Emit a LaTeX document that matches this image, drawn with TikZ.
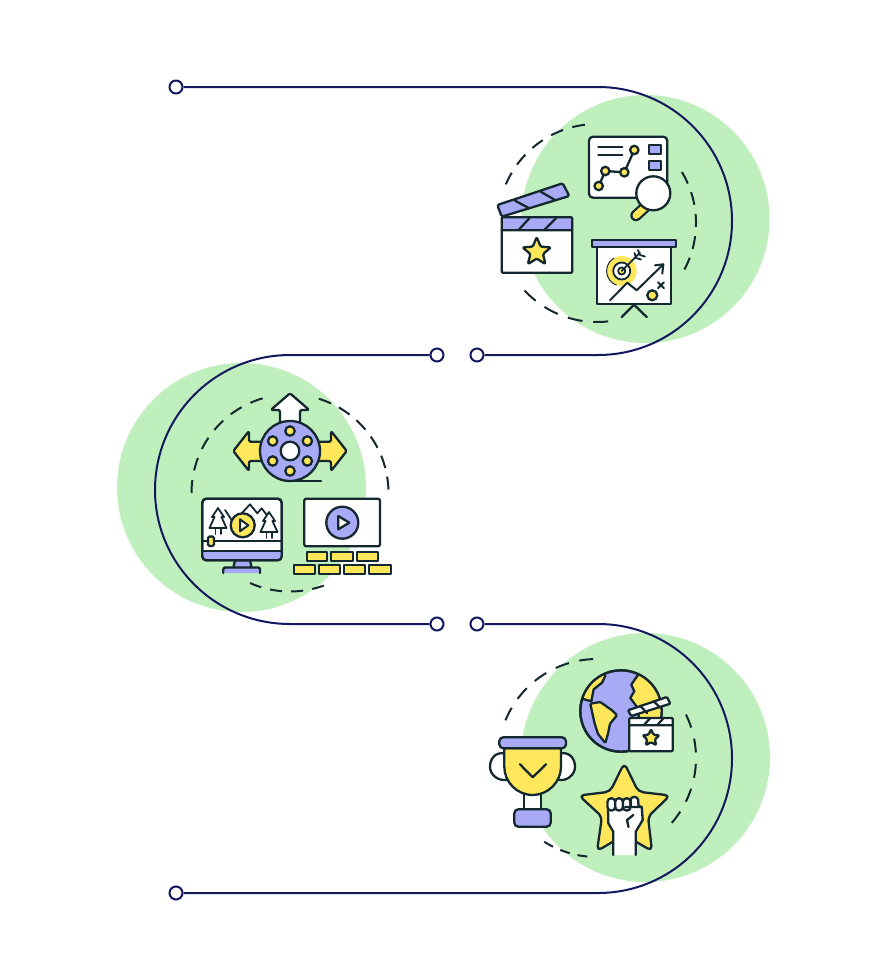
\documentclass[tikz,border=0pt]{standalone}
\definecolor{leaf}{HTML}{BFEFBD}
\definecolor{iris}{HTML}{A8AAF6}
\definecolor{sun}{HTML}{FFE75C}
\definecolor{ink}{HTML}{14282F}
\definecolor{navy}{HTML}{14185E}
\tikzset{
  blob/.style={fill=leaf,draw=none},
  icon/.style={draw=ink,line width=2.3pt,line join=round,line cap=round},
  wfill/.style={icon,fill=white},
  yfill/.style={icon,fill=sun},
  pfill/.style={icon,fill=iris},
  route/.style={draw=navy,line width=2pt},
  endpoint/.style={circle,draw=navy,line width=2pt,fill=white,minimum size=13pt,inner sep=0pt},
  dashring/.style={draw=ink,line width=2pt,smooth}
}
\newcommand{\ringarc}[7]{\draw[dashring,dash pattern=on #6pt off #7pt] plot[domain=#4:#5,samples=60] ({#1+#3*cos(\x)},{#2+#3*sin(\x)});}
\newcommand{\fivestar}[5]{% cx cy R r style
  \draw[#5,rounded corners=1.4pt] ({#1+#3*cos(-90)},{#2+#3*sin(-90)})
  -- ({#1+#4*cos(-54)},{#2+#4*sin(-54)}) -- ({#1+#3*cos(-18)},{#2+#3*sin(-18)})
  -- ({#1+#4*cos(18)},{#2+#4*sin(18)}) -- ({#1+#3*cos(54)},{#2+#3*sin(54)})
  -- ({#1+#4*cos(90)},{#2+#4*sin(90)}) -- ({#1+#3*cos(126)},{#2+#3*sin(126)})
  -- ({#1+#4*cos(162)},{#2+#4*sin(162)}) -- ({#1+#3*cos(198)},{#2+#3*sin(198)})
  -- ({#1+#4*cos(234)},{#2+#4*sin(234)}) -- cycle;}
\begin{document}
\begin{tikzpicture}[x=1pt,y=-1pt]
\useasboundingbox (0,0) rectangle (896,980);
\fill[white] (0,0) rectangle (896,980);
% green discs
\fill[blob] (645.5,219) circle[radius=124];
\fill[blob] (241.5,487.5) circle[radius=124.5];
\fill[blob] (645.5,757.5) circle[radius=124.5];
% routes
\node[endpoint] (a1) at (176,87) {};
\node[endpoint] (a2) at (477,355) {};
\node[endpoint] (b1) at (437,355) {};
\node[endpoint] (b2) at (437,624) {};
\node[endpoint] (c1) at (477,624) {};
\node[endpoint] (c2) at (176,893) {};
\draw[route] (a1.east) -- (598,87) .. controls (672,87) and (732,147) .. (732,221) .. controls (732,295) and (672,355) .. (598,355) -- (a2.east);
\draw[route] (b1.west) -- (290,355) .. controls (215.5,355) and (155,415.5) .. (155,490) .. controls (155,564) and (215.5,624) .. (290,624) -- (b2.west);
\draw[route] (c1.east) -- (598,624) .. controls (672,624) and (732,684) .. (732,758.5) .. controls (732,833) and (672,893) .. (598,893) -- (c2.east);
% dashed rings
\ringarc{597}{223}{99}{203}{263}{13}{9.7}
\ringarc{597}{223}{99}{-31}{28}{13}{9.25}
\ringarc{597}{223}{99}{83.5}{137}{15}{10.8}
\ringarc{290}{493}{98.5}{180}{254}{13}{9.8}
\ringarc{290}{493}{98.5}{-73}{-2}{13}{8.8}
\ringarc{290}{493}{98.5}{70}{114}{12}{9.2}
\ringarc{597}{758}{99}{202.4}{267.8}{14}{10.75}
\ringarc{597}{758}{99}{-26}{41}{14}{11.4}
\ringarc{597}{758}{99}{95.6}{122.4}{10}{8}

% ---- clapperboard
\draw[pfill,rounded corners=1.5pt] (497.3,205) -- (562.7,183.3) -- (569.3,196) -- (501.7,216.7) -- cycle;
\draw[icon] (515,200.7) -- (529.3,208.3) (540.7,191.7) -- (555,200);
\fill[white] (501.7,217.3) rectangle (572.3,272.7);
\fill[iris] (501.7,217.3) rectangle (572.3,230.3);
\draw[icon,rounded corners=1pt] (501.7,217.3) rectangle (572.3,272.7);
\draw[icon] (501.7,230.3) -- (572.3,230.3) (518.3,230.3) -- (529.3,218.3) (544,230.3) -- (556,218.3);
\fivestar{536.7}{252}{15}{6.6}{yfill}

% ---- chart
\draw[wfill,rounded corners=4pt] (589,136.7) rectangle (667.3,197.7);
\draw[icon] (598.3,146.7) -- (622.3,146.7) (598.3,154.7) -- (622.3,154.7);
\draw[icon] (634.3,150) -- (624.3,172.3) -- (605.3,171) -- (598.7,186);
\foreach \p in {(634.3,150),(624.3,172.3),(605.3,171),(598.7,186)} \draw[yfill] \p circle[radius=4.2];
\draw[pfill] (649.3,144.7) rectangle (660.7,154);
\draw[pfill] (649.3,160.7) rectangle (660.7,170);
\draw[ink,line width=11.5pt,line cap=round] (645,207.3) -- (636,215.5);
\draw[sun,line width=7pt,line cap=round] (645,207.3) -- (636,215.5);
\draw[wfill] (653.3,193.3) circle[radius=17];

% ---- presentation board
\draw[icon] (634,304.7) -- (621.7,317) (634,304.7) -- (646.7,317);
\draw[wfill] (597.3,247) rectangle (671,303.7);
\draw[pfill] (592.3,240.3) rectangle (675.7,247);
\fill[sun] (621.7,271) circle[radius=15];
\draw[ink,line width=1pt] plot[domain=110:240,samples=20] ({621.7+15*cos(\x)},{271+15*sin(\x)});
\draw[wfill,line width=1.8pt] (621.7,271) circle[radius=8.5];
\draw[yfill,line width=1.8pt] (621.7,271) circle[radius=3.6];
\draw[icon,line width=1.8pt] (621.7,271) -- (640,252.7) (634.5,253) -- (636,258) -- (641,259.5) (638,250) -- (640,255) -- (645,256.5);
\fill[white] (610,300.3) -- (627.3,282.7) -- (636.7,290.3) -- (636.7,296) -- (625,296) -- cycle;
\draw[icon,line width=2pt] (610,300.3) -- (627.3,282.7) -- (636.7,290.3) -- (663.3,264.3);
\draw[icon,line width=2pt] (655,265.3) -- (663.3,264.3) -- (662.3,273.7);
\draw[icon,line width=2pt] (658,282.3) -- (664,288.3) (664,282.3) -- (658,288.3);
\draw[yfill] (652.3,295.3) circle[radius=5];

% ---- film reel
\draw[wfill,rounded corners=1.5pt] (280,425) -- (280,410) -- (270.7,410) -- (290,393.3) -- (309.3,410) -- (300,410) -- (300,425) -- cycle;
\draw[yfill,rounded corners=1.5pt] (262,441.7) -- (249,441.7) -- (249,431) -- (233.3,451) -- (249,471) -- (249,461) -- (262,461) -- cycle;
\draw[yfill,rounded corners=1.5pt] (318,441.7) -- (331,441.7) -- (331,431) -- (346.7,451) -- (331,471) -- (331,461) -- (318,461) -- cycle;
\draw[pfill] (290,451) circle[radius=30];
\draw[icon] (290,481) -- (321,481);
\draw[wfill] (290,451) circle[radius=9.3];
\foreach \a in {-90,-30,30,90,150,210} \draw[yfill] ({290+20*cos(\a)},{451+20*sin(\a)}) circle[radius=4.7];

% ---- monitor
\draw[pfill] (235,560.3) -- (250,560.3) -- (251.7,568) -- (233.3,568) -- cycle;
\fill[iris,rounded corners=2pt] (223.3,573) -- (223.3,567.5) -- (260,567.5) -- (260,573) -- cycle;
\draw[icon,rounded corners=2pt] (223.3,573) -- (223.3,567.5) -- (260,567.5) -- (260,573);
\draw[wfill,rounded corners=4pt] (202.3,498.7) rectangle (281.7,560.3);
\begin{scope}
\clip[rounded corners=4pt] (202.3,498.7) rectangle (281.7,560.3);
\fill[iris] (202.3,551.3) rectangle (281.7,560.3);
\draw[icon,line width=1.8pt] (225,510) -- (231.7,520);
\draw[icon,line width=1.8pt] (241.7,513.3) -- (250,504.3) -- (257.3,513.3) -- (261.7,508.3) -- (266.7,515);
\end{scope}
\draw[icon,rounded corners=4pt] (202.3,498.7) rectangle (281.7,560.3);
\draw[icon] (202.3,541.3) -- (281.7,541.3) (202.3,551.3) -- (281.7,551.3);
\draw[yfill,rounded corners=1.5pt] (208,536.5) rectangle (214,546);
\foreach \cx/\top in {218/508, 269/512}{
  \draw[wfill,line width=1.8pt] (\cx,\top) -- ({\cx+6},{\top+9}) -- ({\cx+3.5},{\top+9}) -- ({\cx+8.5},{\top+20}) -- ({\cx-8.5},{\top+20}) -- ({\cx-3.5},{\top+9}) -- ({\cx-6},{\top+9}) -- cycle;
  \draw[icon,line width=1.8pt] ({\cx-2.6},{\top+20}) -- ({\cx-2.6},{\top+26}) ({\cx+2.6},{\top+20}) -- ({\cx+2.6},{\top+26});
}
\draw[yfill] (242.7,525.3) circle[radius=12];
\draw[wfill,line width=2pt] (240,519.3) -- (248.3,525.3) -- (240,531.3) -- cycle;

% ---- video and bricks
\draw[wfill,rounded corners=2pt] (304.3,498.7) rectangle (380,546.3);
\draw[pfill] (342.3,522.7) circle[radius=16];
\draw[wfill] (338.3,516) -- (349.3,522.7) -- (338.3,529.3) -- cycle;
\foreach \xa/\xb in {306.7/327.3,331.3/352.7,356.7/378} \draw[yfill] (\xa,552) rectangle (\xb,561.3);
\foreach \xa/\xb in {294/314.7,319.3/340,344.3/365,369.3/390.7} \draw[yfill] (\xa,565.3) rectangle (\xb,574.3);

% ---- globe
\draw[pfill] (621,711) circle[radius=40.7];
\begin{scope}
\clip (621,711) circle[radius=40.7];
\draw[yfill] (605.3,676) -- (602,682.7) -- (593.7,689.3) -- (591.3,701.3) -- (582,698.7) -- (580,680) -- (600,668) -- cycle;
\draw[yfill] (637.7,675.3) -- (631.3,684.7) -- (634.3,691.3) -- (630.3,698) -- (637,707) -- (640,722) -- (672,722) -- (672,665) -- cycle;
\end{scope}
\draw[yfill,rounded corners=1pt] (590.3,703.7) -- (600.3,702) -- (612,710.3) -- (617,715.3) -- (610,723.7) -- (608,733.7) -- (605.3,743) -- (598,734) -- (594.5,723) -- cycle;
\draw[icon] (621,711) circle[radius=40.7];
\draw[wfill,rounded corners=1pt] (628,710.3) -- (667,697) -- (670.3,703.7) -- (631.3,716) -- cycle;
\draw[icon] (640.3,706) -- (647,713) (653.7,701.5) -- (660.3,707.5);
\draw[wfill,rounded corners=1pt] (629.3,718) rectangle (672.7,751.3);
\draw[icon] (629.3,725.3) -- (672.7,725.3) (643.7,725.3) -- (650.3,718) (657,725.3) -- (663.7,718);
\fivestar{651}{738}{9}{4}{yfill}

% ---- trophy
\draw[wfill] (504.3,753.3) .. controls (495,752) and (490,759) .. (490,766.7) .. controls (490,775) and (498,781) .. (506.7,780);
\draw[wfill] (561,753.3) .. controls (570,752) and (575,759) .. (575,766.7) .. controls (575,775) and (567,781) .. (559,780);
\draw[wfill] (524,793) rectangle (540.7,810);
\draw[yfill] (504.3,748.3) -- (504.3,766.7) .. controls (504.3,782) and (517,795) .. (532.7,795) .. controls (548,795) and (561,782) .. (561,766.7) -- (561,748.3) -- cycle;
\draw[pfill,rounded corners=4pt] (499.3,737.3) rectangle (566,748.3);
\draw[icon] (520,764.3) -- (532.7,777.3) -- (546,764.3);
\draw[pfill,rounded corners=4pt] (514.3,809.3) rectangle (550.7,826.7);

% ---- star and fist
\draw[yfill,rounded corners=5pt] (624.3,763) -- (638.3,791.7) -- (670,795.5) -- (648,816.7) -- (652,851) -- (624.3,835) -- (597,851) -- (602,816.7) -- (579,795.5) -- (610,791.7) -- cycle;
\fill[white] (608,808) -- (608.3,823.3) -- (613.3,831.7) -- (613.3,855) -- (635.7,855) -- (635.7,831.7) -- (642.7,820) -- (641.7,806.7) -- cycle;
\draw[icon] (613.3,855) -- (613.3,831.7) -- (608.3,823.3) -- (608,808);
\draw[icon] (635.7,855) -- (635.7,831.7) -- (642.7,820) -- (641.7,806.7) -- (630,805.5);
\foreach \xa/\xb in {607.5/615.2,615.2/622.9,622.9/630.6}
  \draw[wfill,rounded corners=3.5pt] (\xa,810.5) rectangle (\xb,798.3);
\draw[wfill,rounded corners=3pt] (630.6,806) -- (630.6,797) -- (638,797) -- (638.5,806);
\draw[icon] (641,807) -- (625,807) (633.3,815) -- (627,820) -- (628.5,827);
\end{tikzpicture}
\end{document}
